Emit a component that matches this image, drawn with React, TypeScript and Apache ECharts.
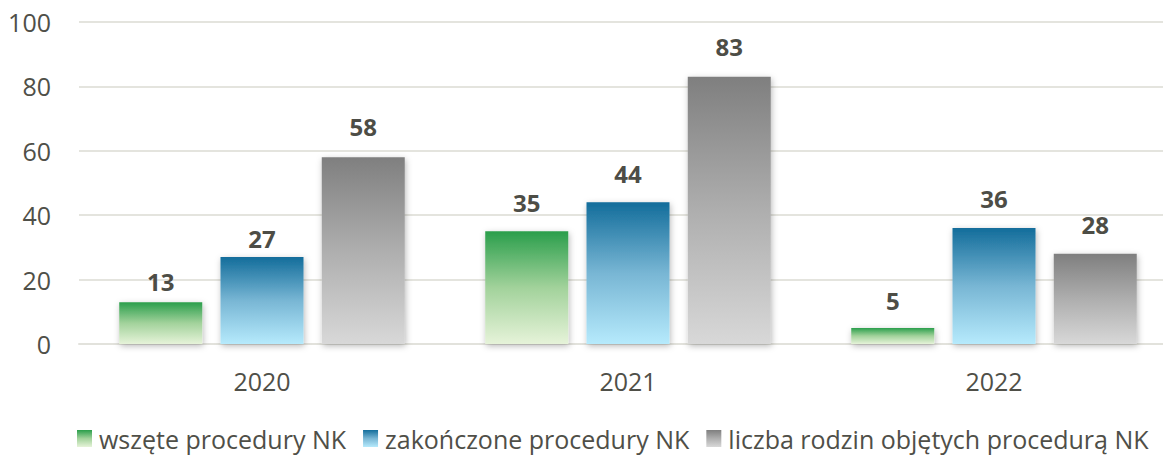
import React, { useEffect, useRef } from "react";
import * as echarts from "echarts";

const categories = ["2020", "2021", "2022"];
const seriesNames = [
  "wszęte procedury NK",
  "zakończone procedury NK",
  "liczba rodzin objętych procedurą NK",
];
const wszete = [13, 35, 5];
const zakonczone = [27, 44, 36];
const rodziny = [58, 83, 28];
const yTicks = { min: 0, max: 100, interval: 20 };

const grad = (top: string, mid: string, bottom: string) =>
  new echarts.graphic.LinearGradient(0, 0, 0, 1, [
    { offset: 0, color: top },
    { offset: 0.5, color: mid },
    { offset: 1, color: bottom },
  ]);

export default function App() {
  const ref = useRef<HTMLDivElement>(null);
  useEffect(() => {
    if (!ref.current) return;
    const chart = echarts.init(ref.current, undefined, { renderer: "svg" });
    const font = "'Open Sans', 'Noto Sans', sans-serif";
    const fills = [
      grad("#2a9e4b", "#a2d29b", "#e6f3d9"),
      grad("#136d9b", "#78b6d4", "#b6eafc"),
      grad("#7f7f7f", "#aeaeae", "#d8d8d8"),
    ];
    const data = [wszete, zakonczone, rodziny];
    // label gaps above the bars (styling, per series/category)
    const labelGaps = [
      [9, 17, 15],
      [7, 17, 18],
      [19, 18, 17],
    ];
    chart.setOption({
      animation: false,
      textStyle: { fontFamily: font },
      grid: { left: 79, width: 1098, top: 22, height: 322, containLabel: false },
      legend: {
        top: 421,
        left: 72,
        itemWidth: 15,
        itemHeight: 17,
        itemGap: 17,
        icon: "rect",
        textStyle: { fontSize: 25, color: "#4f4f48", fontFamily: font, padding: [0, 0, 0, 2] },
        data: seriesNames,
      },
      xAxis: {
        type: "category",
        data: categories,
        axisLine: { show: true, lineStyle: { color: "#e2e2dc", width: 2 } },
        axisTick: { show: false },
        axisLabel: { fontSize: 25, color: "#4f4f48", margin: 24, fontFamily: font },
      },
      yAxis: {
        type: "value",
        min: yTicks.min,
        max: yTicks.max,
        interval: yTicks.interval,
        axisLine: { show: false },
        axisTick: { show: false },
        splitLine: { lineStyle: { color: "#e4e4de", width: 2 } },
        axisLabel: { fontSize: 25, color: "#4f4f48", margin: 28, fontFamily: font },
      },
      series: seriesNames.map((name, i) => ({
        name,
        type: "bar",
        data: data[i].map((v, j) => ({ value: v, label: { distance: labelGaps[i][j] } })),
        barWidth: 83,
        barGap: "22%",
        itemStyle: {
          color: fills[i],
          shadowColor: "rgba(0,0,0,0.28)",
          shadowBlur: 6,
          shadowOffsetX: 1,
          shadowOffsetY: 2,
        },
        label: {
          show: true,
          position: "top",
          fontSize: 24,
          fontWeight: "bold",
          color: "#4d4d46",
          fontFamily: font,
        },
      })),
    });
    return () => chart.dispose();
  }, []);
  return (
    <div
      ref={ref}
      style={{ position: "fixed", left: 0, top: 0, width: 1180, height: 455, background: "#fff" }}
    />
  );
}
